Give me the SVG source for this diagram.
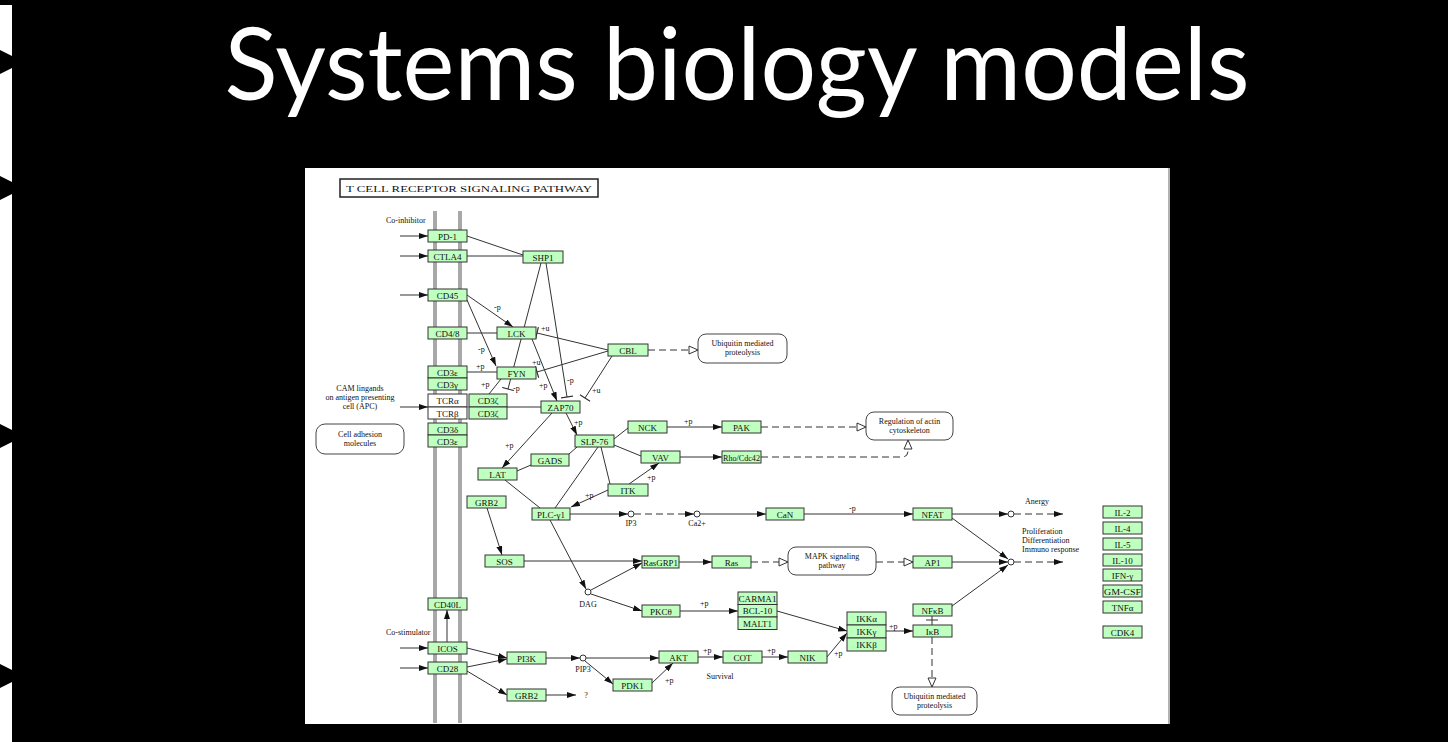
<svg xmlns="http://www.w3.org/2000/svg" width="1448" height="742" viewBox="0 0 1448 742">
<style>
.b{fill:#bfffbf;stroke:#333;stroke-width:1}
.w{fill:#fff;stroke:#333;stroke-width:1}
.r{fill:#fff;stroke:#444;stroke-width:1}
.t{font-family:"Liberation Serif",serif;font-size:9px;text-anchor:middle;fill:#111}
.s{font-family:"Liberation Serif",serif;font-size:8px;fill:#111}
.sm{font-family:"Liberation Serif",serif;font-size:8px;text-anchor:middle;fill:#111}
.l{stroke:#333;stroke-width:1;fill:none}
.a{marker-end:url(#ar)}
.o{marker-end:url(#op);stroke-dasharray:7,4}
.dd{stroke-dasharray:7,4}
.i{marker-end:url(#tb)}
.c{fill:#fff;stroke:#333;stroke-width:1}
.bar{fill:#a8a8a8}
</style>
<defs>
<marker id="ar" markerUnits="userSpaceOnUse" markerWidth="9" markerHeight="6" refX="9" refY="3" orient="auto"><path d="M0,0 L9,3 L0,6 z" fill="#111"/></marker>
<marker id="op" markerUnits="userSpaceOnUse" markerWidth="11" markerHeight="10" refX="10" refY="5" orient="auto"><path d="M1,1 L10,5 L1,9 z" fill="#fff" stroke="#333"/></marker>
<marker id="tb" markerUnits="userSpaceOnUse" markerWidth="2" markerHeight="12" refX="1" refY="6" orient="auto"><path d="M1,0 L1,12" stroke="#333" stroke-width="1.2"/></marker>
</defs>
<rect x="0" y="0" width="1448" height="742" fill="#000"/>
<g id="left-edge">
<rect x="0" y="5" width="12" height="737" fill="#fff"/>
<polygon points="0,50 12,56 12,68 0,74" fill="#000"/>
<polygon points="0,176 12,182 12,194 0,200" fill="#000"/>
<polygon points="0,424 12,430 12,442 0,448" fill="#000"/>
<polygon points="0,664 12,670 12,682 0,688" fill="#000"/>
</g>
<text x="737" y="100" fill="#fff" font-family="Lato, 'Open Sans', sans-serif" font-size="100" text-anchor="middle" textLength="1025" lengthAdjust="spacingAndGlyphs">Systems biology models</text>
<g id="panel">
<rect x="305" y="168" width="865" height="556" fill="#fff"/>
<line x1="1169" y1="168" x2="1169" y2="724" stroke="#999" stroke-width="1.5"/>
<rect x="340" y="179" width="258" height="18" fill="#fff" stroke="#222" stroke-width="1.5"/>
<text x="469" y="192" class="t" font-size="11" textLength="246" lengthAdjust="spacingAndGlyphs">T CELL RECEPTOR SIGNALING PATHWAY</text>
<rect class="bar" x="433" y="211" width="4" height="512"/>
<rect class="bar" x="458" y="211" width="4" height="512"/>
<text x="386" y="223" class="s">Co-inhibitor</text>
<text x="386" y="635" class="s">Co-stimulator</text>
<text class="sm" x="360" y="391">CAM lingands</text>
<text class="sm" x="360" y="400">on antigen presenting</text>
<text class="sm" x="360" y="409">cell (APC)</text>
<text class="sm" x="1037" y="504">Anergy</text>
<text class="s" x="1022" y="534">Proliferation</text>
<text class="s" x="1022" y="543">Differentiation</text>
<text class="s" x="1022" y="552">Immuno response</text>
<text class="sm" x="720" y="679">Survival</text>
<text class="sm" x="631" y="526">IP3</text>
<text class="sm" x="697" y="526">Ca2+</text>
<text class="sm" x="588" y="607">DAG</text>
<text class="sm" x="583" y="672">PIP3</text>
<text class="sm" x="586" y="698">?</text>
</g>
<g id="connectors">
<line class="l a" x1="400" y1="236" x2="428" y2="236"/>
<line class="l a" x1="400" y1="256" x2="428" y2="256"/>
<line class="l a" x1="400" y1="295" x2="428" y2="295"/>
<line class="l a" x1="400" y1="407" x2="428" y2="407"/>
<line class="l a" x1="400" y1="648" x2="428" y2="648"/>
<line class="l a" x1="400" y1="668" x2="428" y2="668"/>
<line class="l" x1="467" y1="236" x2="523" y2="255"/>
<line class="l" x1="467" y1="256" x2="523" y2="256"/>
<line class="l a" x1="467" y1="295" x2="513" y2="327"/>
<line class="l a" x1="467" y1="300" x2="496" y2="366"/>
<line class="l" x1="467" y1="333" x2="497" y2="333"/>
<line class="l" x1="467" y1="372" x2="497" y2="372"/>
<line class="l i" x1="541" y1="263" x2="508" y2="389"/>
<line class="l i" x1="546" y1="263" x2="567" y2="397"/>
<line class="l a" x1="532" y1="339" x2="557" y2="401"/>
<line class="l i" x1="608" y1="350" x2="537" y2="333"/>
<line class="l i" x1="608" y1="351" x2="537" y2="372"/>
<line class="l i" x1="612" y1="356" x2="585" y2="398"/>
<line class="l" x1="501" y1="379" x2="489" y2="394"/>
<line class="l" x1="507" y1="407" x2="541" y2="407"/>
<line class="l a" x1="566" y1="413" x2="577" y2="435"/>
<line class="l a" x1="552" y1="413" x2="502" y2="468"/>
<line class="l o" x1="648" y1="350" x2="698" y2="350"/>
<line class="l" x1="614" y1="439" x2="628" y2="428"/>
<line class="l" x1="614" y1="445" x2="641" y2="456"/>
<line class="l" x1="577" y1="447" x2="569" y2="454"/>
<line class="l" x1="598" y1="447" x2="555" y2="508"/>
<line class="l" x1="601" y1="447" x2="610" y2="484"/>
<line class="l a" x1="667" y1="427" x2="722" y2="427"/>
<line class="l a" x1="680" y1="457" x2="722" y2="457"/>
<line class="l a" x1="629" y1="484" x2="659" y2="463"/>
<line class="l a" x1="608" y1="490" x2="571" y2="507"/>
<line class="l o" x1="761" y1="427" x2="866" y2="427"/>
<path class="l o" d="M761,457 H902 Q908,457 908,451 V440"/>
<line class="l" x1="517" y1="471" x2="531" y2="465"/>
<line class="l" x1="505" y1="480" x2="540" y2="508"/>
<line class="l a" x1="487" y1="508" x2="502" y2="555"/>
<line class="l a" x1="570" y1="514" x2="628" y2="514"/>
<line class="l a dd" x1="634" y1="514" x2="694" y2="514"/>
<line class="l a" x1="700" y1="514" x2="766" y2="514"/>
<line class="l a" x1="804" y1="514" x2="913" y2="514"/>
<line class="l a" x1="952" y1="514" x2="1008" y2="514"/>
<line class="l a dd" x1="1014" y1="514" x2="1063" y2="514"/>
<line class="l a" x1="952" y1="518" x2="1008" y2="559"/>
<line class="l a" x1="952" y1="562" x2="1008" y2="562"/>
<line class="l a dd" x1="1014" y1="562" x2="1063" y2="562"/>
<line class="l a" x1="952" y1="606" x2="1008" y2="565"/>
<line class="l a" x1="550" y1="520" x2="586" y2="589"/>
<line class="l a" x1="524" y1="561" x2="642" y2="561"/>
<line class="l a" x1="591" y1="590" x2="642" y2="563"/>
<line class="l a" x1="679" y1="562" x2="712" y2="562"/>
<line class="l o" x1="751" y1="562" x2="788" y2="562"/>
<line class="l o" x1="876" y1="562" x2="913" y2="562"/>
<line class="l a" x1="591" y1="594" x2="642" y2="611"/>
<line class="l a" x1="680" y1="611" x2="738" y2="611"/>
<line class="l a" x1="777" y1="611" x2="847" y2="631"/>
<line class="l a" x1="827" y1="657" x2="847" y2="633"/>
<line class="l a" x1="886" y1="631" x2="913" y2="631"/>
<line class="l" x1="932" y1="616" x2="932" y2="625"/>
<line class="l" x1="926" y1="620" x2="938" y2="620"/>
<line class="l o" x1="932" y1="637" x2="932" y2="687"/>
<line class="l a" x1="447" y1="642" x2="447" y2="610"/>
<line class="l a" x1="467" y1="648" x2="507" y2="658"/>
<line class="l a" x1="467" y1="667" x2="507" y2="659"/>
<line class="l a" x1="467" y1="671" x2="507" y2="695"/>
<line class="l a" x1="546" y1="695" x2="576" y2="695"/>
<line class="l a" x1="546" y1="658" x2="580" y2="658"/>
<line class="l a" x1="586" y1="658" x2="659" y2="658"/>
<line class="l a" x1="585" y1="661" x2="613" y2="684"/>
<line class="l a" x1="652" y1="683" x2="673" y2="663"/>
<line class="l a" x1="698" y1="657" x2="723" y2="657"/>
<line class="l a" x1="762" y1="657" x2="788" y2="657"/>
<circle class="c" cx="631" cy="514" r="3"/>
<circle class="c" cx="697" cy="514" r="3"/>
<circle class="c" cx="1011" cy="514" r="3"/>
<circle class="c" cx="1011" cy="562" r="3"/>
<circle class="c" cx="588" cy="592" r="3"/>
<circle class="c" cx="583" cy="658" r="3"/>
<text class="s" x="494" y="310">-p</text>
<text class="s" x="478" y="352">-p</text>
<text class="s" x="476" y="369">+p</text>
<text class="s" x="541" y="331">+u</text>
<text class="s" x="532" y="365">+u</text>
<text class="s" x="481" y="387">+p</text>
<text class="s" x="513" y="391">-p</text>
<text class="s" x="539" y="388">+p</text>
<text class="s" x="567" y="383">-p</text>
<text class="s" x="592" y="393">+u</text>
<text class="s" x="574" y="425">+p</text>
<text class="s" x="505" y="448">+p</text>
<text class="s" x="684" y="424">+p</text>
<text class="s" x="647" y="480">+p</text>
<text class="s" x="585" y="498">+p</text>
<text class="s" x="849" y="511">-p</text>
<text class="s" x="700" y="606">+p</text>
<text class="s" x="703" y="653">+p</text>
<text class="s" x="767" y="653">+p</text>
<text class="s" x="834" y="656">+p</text>
<text class="s" x="889" y="629">+p</text>
<text class="s" x="665" y="683">+p</text>
</g>
<g id="n-pd1"><rect class="b" x="428" y="230" width="39" height="12"/><text class="t" x="447.5" y="239.5">PD-1</text></g>
<g id="n-ctla4"><rect class="b" x="428" y="250" width="39" height="12"/><text class="t" x="447.5" y="259.5">CTLA4</text></g>
<g id="n-cd45"><rect class="b" x="428" y="289" width="39" height="12"/><text class="t" x="447.5" y="298.5">CD45</text></g>
<g id="n-cd48"><rect class="b" x="428" y="327" width="39" height="12"/><text class="t" x="447.5" y="336.5">CD4/8</text></g>
<g id="n-cd3e"><rect class="b" x="428" y="366" width="39" height="12"/><text class="t" x="447.5" y="375.5">CD3ε</text></g>
<g id="n-cd3g"><rect class="b" x="428" y="378" width="39" height="12"/><text class="t" x="447.5" y="387.5">CD3γ</text></g>
<g id="n-tcra"><rect class="w" x="428" y="394" width="39" height="13"/><text class="t" x="447.5" y="404">TCRα</text></g>
<g id="n-tcrb"><rect class="w" x="428" y="407" width="39" height="12"/><text class="t" x="447.5" y="416.5">TCRβ</text></g>
<g id="n-cd3z1"><rect class="b" x="469" y="394" width="38" height="13"/><text class="t" x="488" y="404">CD3ζ</text></g>
<g id="n-cd3z2"><rect class="b" x="469" y="407" width="38" height="12"/><text class="t" x="488" y="416.5">CD3ζ</text></g>
<g id="n-cd3d"><rect class="b" x="428" y="423" width="39" height="12"/><text class="t" x="447.5" y="432.5">CD3δ</text></g>
<g id="n-cd3e2"><rect class="b" x="428" y="435" width="39" height="12"/><text class="t" x="447.5" y="444.5">CD3ε</text></g>
<g id="n-shp1"><rect class="b" x="523" y="251" width="40" height="12"/><text class="t" x="543" y="260.5">SHP1</text></g>
<g id="n-lck"><rect class="b" x="497" y="327" width="39" height="12"/><text class="t" x="516.5" y="336.5">LCK</text></g>
<g id="n-fyn"><rect class="b" x="497" y="367" width="39" height="12"/><text class="t" x="516.5" y="376.5">FYN</text></g>
<g id="n-cbl"><rect class="b" x="608" y="344" width="40" height="12"/><text class="t" x="628" y="353.5">CBL</text></g>
<g id="n-zap70"><rect class="b" x="541" y="401" width="39" height="12"/><text class="t" x="560.5" y="410.5">ZAP70</text></g>
<g id="n-slp76"><rect class="b" x="575" y="435" width="39" height="12"/><text class="t" x="594.5" y="444.5">SLP-76</text></g>
<g id="n-nck"><rect class="b" x="628" y="421" width="39" height="12"/><text class="t" x="647.5" y="430.5">NCK</text></g>
<g id="n-pak"><rect class="b" x="722" y="421" width="39" height="12"/><text class="t" x="741.5" y="430.5">PAK</text></g>
<g id="n-vav"><rect class="b" x="641" y="451" width="39" height="12"/><text class="t" x="660.5" y="460.5">VAV</text></g>
<g id="n-rho"><rect class="b" x="722" y="451" width="39" height="12"/><text class="t" x="741.5" y="460.5" font-size="8" textLength="37" lengthAdjust="spacingAndGlyphs">Rho/Cdc42</text></g>
<g id="n-gads"><rect class="b" x="531" y="454" width="38" height="12"/><text class="t" x="550" y="463.5">GADS</text></g>
<g id="n-lat"><rect class="b" x="478" y="468" width="39" height="12"/><text class="t" x="497.5" y="477.5">LAT</text></g>
<g id="n-itk"><rect class="b" x="608" y="484" width="40" height="12"/><text class="t" x="628" y="493.5">ITK</text></g>
<g id="n-grb2a"><rect class="b" x="467" y="496" width="39" height="12"/><text class="t" x="486.5" y="505.5">GRB2</text></g>
<g id="n-plc"><rect class="b" x="532" y="508" width="38" height="12"/><text class="t" x="551" y="517.5">PLC-γ1</text></g>
<g id="n-can"><rect class="b" x="766" y="508" width="38" height="12"/><text class="t" x="785" y="517.5">CaN</text></g>
<g id="n-nfat"><rect class="b" x="913" y="508" width="39" height="12"/><text class="t" x="932.5" y="517.5">NFAT</text></g>
<g id="n-sos"><rect class="b" x="485" y="555" width="39" height="12"/><text class="t" x="504.5" y="564.5">SOS</text></g>
<g id="n-rasgrp1"><rect class="b" x="642" y="556" width="37" height="12"/><text class="t" x="660.5" y="565.5" font-size="8" textLength="35" lengthAdjust="spacingAndGlyphs">RasGRP1</text></g>
<g id="n-ras"><rect class="b" x="712" y="556" width="39" height="12"/><text class="t" x="731.5" y="565.5">Ras</text></g>
<g id="n-ap1"><rect class="b" x="913" y="556" width="39" height="12"/><text class="t" x="932.5" y="565.5">AP1</text></g>
<g id="n-cd40l"><rect class="b" x="428" y="598" width="39" height="12"/><text class="t" x="447.5" y="607.5">CD40L</text></g>
<g id="n-pkc"><rect class="b" x="642" y="605" width="38" height="12"/><text class="t" x="661" y="614.5">PKCθ</text></g>
<g id="n-carma"><rect class="b" x="738" y="592" width="39" height="12.5"/><text class="t" x="757.5" y="601.5" font-size="8.5" textLength="38" lengthAdjust="spacingAndGlyphs">CARMA1</text></g>
<g id="n-bcl10"><rect class="b" x="738" y="604.5" width="39" height="12.5"/><text class="t" x="757.5" y="614">BCL-10</text></g>
<g id="n-malt1"><rect class="b" x="738" y="617" width="39" height="12.5"/><text class="t" x="757.5" y="626.5">MALT1</text></g>
<g id="n-ikka"><rect class="b" x="847" y="612" width="39" height="13"/><text class="t" x="866.5" y="622">IKKα</text></g>
<g id="n-ikkg"><rect class="b" x="847" y="625" width="39" height="13"/><text class="t" x="866.5" y="635">IKKγ</text></g>
<g id="n-ikkb"><rect class="b" x="847" y="638" width="39" height="13"/><text class="t" x="866.5" y="648">IKKβ</text></g>
<g id="n-nfkb"><rect class="b" x="913" y="604" width="39" height="12"/><text class="t" x="932.5" y="613.5">NFκB</text></g>
<g id="n-ikb"><rect class="b" x="913" y="625" width="39" height="12"/><text class="t" x="932.5" y="634.5">IκB</text></g>
<g id="n-icos"><rect class="b" x="428" y="642" width="39" height="12"/><text class="t" x="447.5" y="651.5">ICOS</text></g>
<g id="n-cd28"><rect class="b" x="428" y="662" width="39" height="12"/><text class="t" x="447.5" y="671.5">CD28</text></g>
<g id="n-pi3k"><rect class="b" x="507" y="652" width="39" height="12"/><text class="t" x="526.5" y="661.5">PI3K</text></g>
<g id="n-akt"><rect class="b" x="659" y="651" width="39" height="12"/><text class="t" x="678.5" y="660.5">AKT</text></g>
<g id="n-cot"><rect class="b" x="723" y="651" width="39" height="12"/><text class="t" x="742.5" y="660.5">COT</text></g>
<g id="n-nik"><rect class="b" x="788" y="651" width="39" height="12"/><text class="t" x="807.5" y="660.5">NIK</text></g>
<g id="n-pdk1"><rect class="b" x="613" y="679" width="39" height="12"/><text class="t" x="632.5" y="688.5">PDK1</text></g>
<g id="n-grb2b"><rect class="b" x="507" y="689" width="39" height="12"/><text class="t" x="526.5" y="698.5">GRB2</text></g>
<g id="n-il2"><rect class="b" x="1103" y="506" width="39" height="12"/><text class="t" x="1122.5" y="515.5">IL-2</text></g>
<g id="n-il4"><rect class="b" x="1103" y="522" width="39" height="12"/><text class="t" x="1122.5" y="531.5">IL-4</text></g>
<g id="n-il5"><rect class="b" x="1103" y="538" width="39" height="12"/><text class="t" x="1122.5" y="547.5">IL-5</text></g>
<g id="n-il10"><rect class="b" x="1103" y="554" width="39" height="12"/><text class="t" x="1122.5" y="563.5">IL-10</text></g>
<g id="n-ifng"><rect class="b" x="1103" y="569" width="39" height="12"/><text class="t" x="1122.5" y="578.5">IFN-γ</text></g>
<g id="n-gmcsf"><rect class="b" x="1103" y="585" width="39" height="12"/><text class="t" x="1122.5" y="594.5" textLength="37" lengthAdjust="spacingAndGlyphs">GM-CSF</text></g>
<g id="n-tnfa"><rect class="b" x="1103" y="601" width="39" height="12"/><text class="t" x="1122.5" y="610.5">TNFα</text></g>
<g id="n-cdk4"><rect class="b" x="1103" y="626" width="39" height="12"/><text class="t" x="1122.5" y="635.5">CDK4</text></g>
<g id="n-ubq1"><rect class="r" x="698" y="334" width="89" height="29" rx="8"/><text class="sm" x="742.5" y="346">Ubiquitin mediated</text><text class="sm" x="742.5" y="355">proteolysis</text></g>
<g id="n-actin"><rect class="r" x="866" y="412" width="87" height="28" rx="8"/><text class="sm" x="909.5" y="424">Regulation of actin</text><text class="sm" x="909.5" y="433">cytoskeleton</text></g>
<g id="n-cam"><rect class="r" x="316" y="424" width="88" height="30" rx="9"/><text class="sm" x="360" y="437">Cell adhesion</text><text class="sm" x="360" y="446">molecules</text></g>
<g id="n-mapk"><rect class="r" x="788" y="547" width="88" height="28" rx="8"/><text class="sm" x="832" y="559">MAPK signaling</text><text class="sm" x="832" y="568">pathway</text></g>
<g id="n-ubq2"><rect class="r" x="892" y="687" width="85" height="28" rx="8"/><text class="sm" x="934.5" y="699">Ubiquitin mediated</text><text class="sm" x="934.5" y="708">proteolysis</text></g>
</svg>
